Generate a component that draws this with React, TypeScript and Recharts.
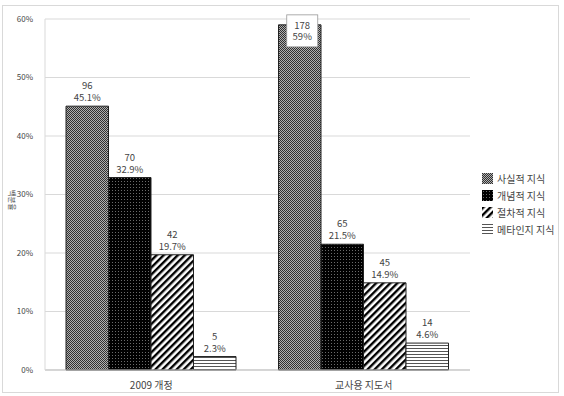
import { BarChart, Bar, XAxis, YAxis, CartesianGrid, LabelList } from 'recharts'

const categories = ['2009 개정', '교사용 지도서']
const seriesNames = ['사실적 지식', '개념적 지식', '절차적 지식', '메타인지 지식']
// percentage per knowledge type, per category
const factual = [45.1, 59]
const conceptual = [32.9, 21.5]
const procedural = [19.7, 14.9]
const metacognitive = [2.3, 4.6]
// raw counts shown above each percentage
const factualCount = [96, 178]
const conceptualCount = [70, 65]
const proceduralCount = [42, 45]
const metacognitiveCount = [5, 14]
const yTicks = [0, 10, 20, 30, 40, 50, 60]

const keys = ['factual', 'conceptual', 'procedural', 'metacognitive']
const patternIds = ['pat-check', 'pat-dots', 'pat-diag', 'pat-hlines']

const data = categories.map((name, i) => ({
  name,
  factual: factual[i],
  conceptual: conceptual[i],
  procedural: procedural[i],
  metacognitive: metacognitive[i],
  factualCount: factualCount[i],
  conceptualCount: conceptualCount[i],
  proceduralCount: proceduralCount[i],
  metacognitiveCount: metacognitiveCount[i],
}))

const FONT = '"Noto Sans CJK KR", "Noto Sans", sans-serif'
const TEXT = '#444'

function Patterns() {
  return (
    <svg width={0} height={0} style={{ position: 'absolute' }}>
      <defs>
        <pattern id="pat-check" width={2} height={2} patternUnits="userSpaceOnUse">
          <rect width={2} height={2} fill="#b0b0b0" />
          <rect width={1} height={1} fill="#303030" />
          <rect x={1} y={1} width={1} height={1} fill="#303030" />
        </pattern>
        <pattern id="pat-dots" width={3} height={3} patternUnits="userSpaceOnUse">
          <rect width={3} height={3} fill="#000" />
          <rect x={1} y={1} width={1} height={1} fill="#6a6a6a" />
        </pattern>
        <pattern id="pat-diag" width={5} height={5} patternUnits="userSpaceOnUse" patternTransform="rotate(45)">
          <rect width={5} height={5} fill="#fff" />
          <rect width={2.4} height={5} fill="#000" />
        </pattern>
        <pattern id="pat-hlines" width={4} height={3} patternUnits="userSpaceOnUse">
          <rect width={4} height={3} fill="#fff" />
          <rect width={4} height={1} fill="#555" />
        </pattern>
      </defs>
    </svg>
  )
}

function makeLabel(countKey: string) {
  return (props: any) => {
    const { x, y, width, index } = props
    const row: any = data[index]
    const cx = x + width / 2
    const count = row[countKey]
    const pct = props.value
    // tallest bar runs into the top edge, so its label sits inside a boxed tag
    if (y < 40) {
      return (
        <g>
          <rect x={cx - 13} y={y - 10} width={31} height={32} fill="#fff" stroke="#999" strokeWidth={0.8} />
          <text x={cx + 2.5} y={y + 0.5} textAnchor="middle" dominantBaseline="central" fontSize={9.5} fill={TEXT} fontFamily={FONT}>{count}</text>
          <text x={cx + 2.5} y={y + 11.5} textAnchor="middle" dominantBaseline="central" fontSize={9.5} fill={TEXT} fontFamily={FONT}>{pct}%</text>
        </g>
      )
    }
    return (
      <g>
        <text x={cx} y={y - 21} textAnchor="middle" dominantBaseline="central" fontSize={9.5} fill={TEXT} fontFamily={FONT}>{count}</text>
        <text x={cx} y={y - 9} textAnchor="middle" dominantBaseline="central" fontSize={9.5} fill={TEXT} fontFamily={FONT}>{pct}%</text>
      </g>
    )
  }
}

function LegendBox() {
  return (
    <div style={{ position: 'absolute', left: 482, top: 170, fontFamily: FONT, fontSize: 10, color: TEXT }}>
      {seriesNames.map((n, i) => (
        <div key={n} style={{ display: 'flex', alignItems: 'center', height: 17 }}>
          <svg width={11} height={11} style={{ marginRight: 4 }}>
            <rect x={0} y={0} width={11} height={11} fill={`url(#${patternIds[i]})`} />
          </svg>
          <span>{n}</span>
        </div>
      ))}
    </div>
  )
}

export default function App() {
  return (
    <div style={{ position: 'absolute', left: 0, top: 0, width: 564, height: 396, background: '#fff' }}>
      <Patterns />
      <div style={{ position: 'absolute', left: 2, top: 5, width: 557, height: 388, border: '1px solid #d9d9d9', boxSizing: 'border-box' }} />
      <BarChart
        width={564}
        height={396}
        data={data}
        margin={{ top: 19, right: 94, bottom: 6, left: 0 }}
        barSize={42.5}
        barGap={0}
      >
        <CartesianGrid vertical={false} stroke="#d9d9d9" />
        <XAxis
          dataKey="name"
          height={20}
          tickLine={false}
          axisLine={{ stroke: '#bfbfbf' }}
          tick={{ fontSize: 10, fill: TEXT, fontFamily: FONT }}
          tickMargin={6}
        />
        <YAxis
          width={45}
          domain={[0, 60]}
          ticks={yTicks}
          tickFormatter={(v) => `${v}%`}
          tickLine={false}
          axisLine={{ stroke: '#d9d9d9' }}
          tick={{ fontSize: 8, fill: TEXT, fontFamily: FONT }}
          tickMargin={6}
        />
        <text x={12} y={200} transform="rotate(90 12 200)" textAnchor="middle" dominantBaseline="central" fontSize={7.5} fill={TEXT} fontFamily={FONT}>
          백분율
        </text>
        {keys.map((k, i) => (
          <Bar
            key={k}
            dataKey={k}
            name={seriesNames[i]}
            fill={`url(#${patternIds[i]})`}
            stroke="#222"
            strokeWidth={1}
            isAnimationActive={false}
          >
            <LabelList dataKey={k} content={makeLabel(k + 'Count')} />
          </Bar>
        ))}
      </BarChart>
      <LegendBox />
    </div>
  )
}
